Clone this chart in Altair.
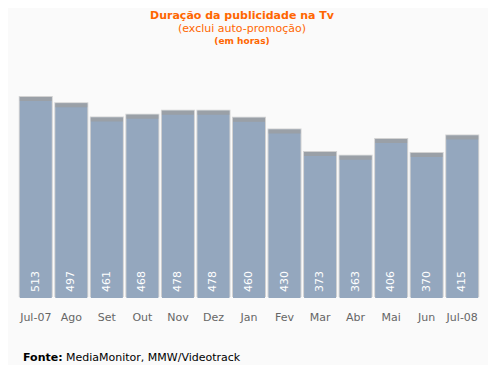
import altair as alt
import pandas as pd

months = ["Jul-07", "Ago", "Set", "Out", "Nov", "Dez", "Jan", "Fev", "Mar", "Abr", "Mai", "Jun", "Jul-08"]
hours = [513, 497, 461, 468, 478, 478, 460, 430, 373, 363, 406, 370, 415]

title_main = "Duração da publicidade na Tv"
title_sub = "(exclui auto-promoção)"
title_unit = "(em horas)"
source_bold = "Fonte:"
source_rest = "MediaMonitor, MMW/Videotrack"

df = pd.DataFrame({"mes": months, "horas": hours})

FONT = "DejaVu Sans"
ORANGE = "#ff6600"

x = alt.X("mes:N", sort=months, title=None,
          scale=alt.Scale(paddingInner=0.1, paddingOuter=0.05),
          axis=alt.Axis(labelAngle=0, ticks=False, tickSize=0, domain=False, labelPadding=13,
                        labelColor="#666666", labelFont=FONT, labelFontSize=11))
y = alt.Y("horas:Q", title=None, scale=alt.Scale(domain=[0, 600], nice=False),
          axis=None)

base = alt.Chart(df)

shadow = base.mark_bar(size=34, color="#d2d2d2", yOffset=-1).encode(x=x, y=y)
bars = base.mark_bar(size=32, color="#94a7be").encode(x=x, y=y)
cap = base.mark_tick(thickness=4, size=32, yOffset=2, color="#9d9d9d").encode(x=x, y=y)
labels = base.mark_text(angle=270, align="left", baseline="middle", dx=6, color="white",
                        fontSize=11, font=FONT).encode(x=x, y=alt.datum(0), text="horas:Q")

one = pd.DataFrame({"k": [0]})


def txt(s, xpos, ypos, size, weight, color, align="center"):
    return alt.Chart(one).mark_text(text=s, font=FONT, fontSize=size, fontWeight=weight,
                                    color=color, align=align, baseline="alphabetic").encode(
        x=alt.value(xpos), y=alt.value(ypos))


t1 = txt(title_main, 224, -44, 11, "bold", ORANGE)
t2 = txt(title_sub, 224, -31, 11, "normal", ORANGE)
t3 = txt(title_unit, 224, -19, 9, "bold", ORANGE)
s1 = txt(source_bold, 5, 297.5, 11, "bold", "#000000", "left")
s2 = txt(source_rest, 48, 297.5, 11, "normal", "#000000", "left")

chart = alt.layer(shadow, bars, cap, labels, t1, t2, t3, s1, s2).properties(
    width=462, height=235,
    padding={"left": 10, "top": 55, "right": 8, "bottom": 67},
    autosize=alt.AutoSizeParams(type="none"),
    background="#fafafa",
).configure_view(stroke=None)

chart.save("out.html", embed_options={"renderer": "svg", "actions": False})
